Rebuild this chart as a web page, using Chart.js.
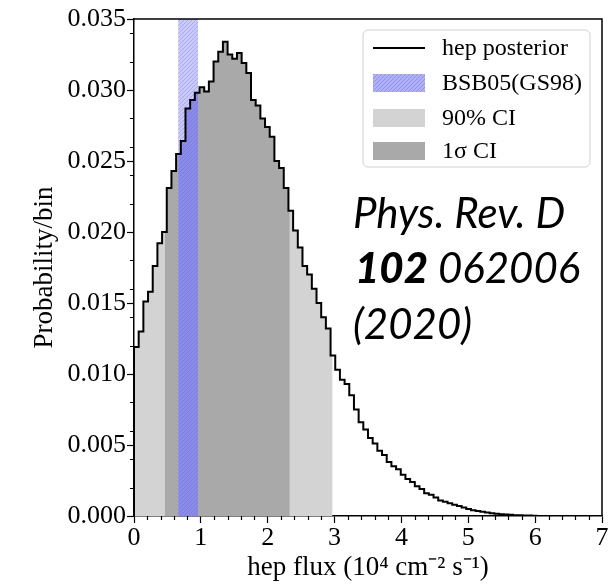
<!DOCTYPE html>
<html>
<head>
<meta charset="utf-8">
<title>hep posterior</title>
<script src="https://cdn.jsdelivr.net/npm/chart.js@4.4.1/dist/chart.umd.min.js"></script>
<style>
	html, body { margin: 0; padding: 0; background: #fff; }
	canvas { display: block; }
</style>
</head>
<body>
<canvas id="hepChart" width="609" height="585"></canvas>
<script>

// histogram: probability per bin, bins of 0.07 starting at 0
var binWidth = 0.07;
var hepProb = [
	0.0119, 0.0130, 0.0151, 0.0158, 0.0176, 0.0192, 0.0200, 0.0231, 0.0243, 0.0255,
	0.0264, 0.0287, 0.0293, 0.0298, 0.0302, 0.0299, 0.0306, 0.0320, 0.0327, 0.0334,
	0.0325, 0.0322, 0.0326, 0.0319, 0.0312, 0.0293, 0.0289, 0.0280, 0.0274, 0.0267,
	0.0250, 0.0245, 0.0231, 0.0215, 0.0201, 0.0189, 0.0176, 0.0170, 0.0160, 0.0150,
	0.0140, 0.0132, 0.0113, 0.0103, 0.0096, 0.0093, 0.0085, 0.0075, 0.0066, 0.0061,
	0.0055, 0.0051, 0.0046, 0.0043, 0.0038, 0.0035, 0.0033, 0.0029, 0.0026, 0.0024,
	0.0021, 0.0019, 0.0016, 0.0015, 0.0013, 0.0011, 0.0010, 0.0009, 0.0008, 0.0007,
	0.0006, 0.0005, 0.0004, 0.00036, 0.0003, 0.00025, 0.0002, 0.00016, 0.00013, 0.0001,
	0.00008, 0.00006, 0.00005, 0.00004, 0.00003, 0.00002
];

var ci90 = [0, 2.97];
var ci1sigma = [0.46, 2.33];
var bsb05 = [0.66, 0.96];

var xTicks = [0, 1, 2, 3, 4, 5, 6, 7];
var yTicks = [0, 0.005, 0.010, 0.015, 0.020, 0.025, 0.030, 0.035];

var legendLabels = ["hep posterior", "BSB05(GS98)", "90% CI", "1\u03c3 CI"];
var refLines = ["Phys. Rev. D", "102", " 062006", "(2020)"];


function binValueAt(x){
	var k = Math.floor(x / binWidth + 1e-9);
	if (k < 0 || k >= hepProb.length) { return 0; }
	return hepProb[k];
}

// step points for the whole histogram
function histPoints(){
	var pts = [{x: 0, y: 0}];
	for (var k = 0; k < hepProb.length; k++){
		pts.push({x: +(k * binWidth).toFixed(4), y: hepProb[k]});
	}
	var end = +(hepProb.length * binWidth).toFixed(4);
	pts.push({x: end, y: hepProb[hepProb.length - 1]});
	pts.push({x: end, y: 0});
	pts.push({x: xTicks[xTicks.length - 1], y: 0});
	return pts;
}

// step points for the part of the histogram between a and b
function rangePoints(a, b){
	var pts = [{x: a, y: binValueAt(a)}];
	for (var k = 0; k < hepProb.length; k++){
		var e = +(k * binWidth).toFixed(4);
		if (e > a && e < b) { pts.push({x: e, y: hepProb[k]}); }
	}
	pts.push({x: b, y: binValueAt(b - 1e-6)});
	return pts;
}

function hatch(base, line){
	var c = document.createElement('canvas');
	c.width = 4; c.height = 4;
	var g = c.getContext('2d');
	g.fillStyle = base;
	g.fillRect(0, 0, 4, 4);
	g.strokeStyle = line;
	g.lineWidth = 1;
	g.beginPath();
	g.moveTo(0, 4); g.lineTo(4, 0);
	g.moveTo(-2, 2); g.lineTo(2, -2);
	g.moveTo(2, 6); g.lineTo(6, 2);
	g.stroke();
	return g.createPattern(c, 'repeat');
}

var paleBlue = hatch('#c9c9fa', '#a9a9f2');
var midBlue = hatch('#8b8be9', '#7c7ce2');
var legendBlue = hatch('#b0b0f6', '#9090ee');
var lightGray = '#d3d3d3';
var darkGray = '#a9a9a9';

var frameAndExtras = {
	id: 'frameAndExtras',
	afterDraw: function(chart){
		var ctx = chart.ctx;
		var a = chart.chartArea;
		var xs = chart.scales.x;
		var ys = chart.scales.y;
		ctx.save();

		// minor ticks
		ctx.strokeStyle = '#000';
		ctx.lineWidth = 1.2;
		ctx.beginPath();
		for (var i = 1; i < 35; i++){
			if (i % 5 === 0) { continue; }
			var px = Math.round(xs.getPixelForValue(i * 0.2)) + 0.5;
			ctx.moveTo(px, a.bottom); ctx.lineTo(px, a.bottom + 4);
		}
		for (var j = 1; j < 18; j++){
			var v = j * 0.002;
			if (Math.abs(v / 0.005 - Math.round(v / 0.005)) < 1e-6) { continue; }
			var py = Math.round(ys.getPixelForValue(v)) + 0.5;
			ctx.moveTo(a.left, py); ctx.lineTo(a.left - 4, py);
		}
		ctx.stroke();

		// top and right spines
		ctx.lineWidth = 1.5;
		ctx.beginPath();
		ctx.moveTo(a.left, a.top); ctx.lineTo(a.right, a.top); ctx.lineTo(a.right, a.bottom);
		ctx.stroke();

		// legend
		var lx = 363, ly = 30, lw = 227, lh = 137, r = 5;
		ctx.beginPath();
		ctx.moveTo(lx + r, ly);
		ctx.arcTo(lx + lw, ly, lx + lw, ly + lh, r);
		ctx.arcTo(lx + lw, ly + lh, lx, ly + lh, r);
		ctx.arcTo(lx, ly + lh, lx, ly, r);
		ctx.arcTo(lx, ly, lx + lw, ly, r);
		ctx.closePath();
		ctx.fillStyle = 'rgba(255,255,255,0.85)';
		ctx.fill();
		ctx.strokeStyle = '#d0d0d0';
		ctx.lineWidth = 1;
		ctx.stroke();

		var rows = [48, 83, 118, 151];
		var fills = [null, legendBlue, lightGray, darkGray];
		ctx.font = '24px "Liberation Serif"';
		ctx.textBaseline = 'middle';
		ctx.textAlign = 'left';
		for (var n = 0; n < legendLabels.length; n++){
			if (n === 0){
				ctx.strokeStyle = '#000';
				ctx.lineWidth = 2;
				ctx.beginPath();
				ctx.moveTo(373, rows[n]); ctx.lineTo(425, rows[n]);
				ctx.stroke();
			} else {
				ctx.fillStyle = fills[n];
				ctx.fillRect(373, rows[n] - 9, 52, 18);
			}
			ctx.fillStyle = '#000';
			ctx.fillText(legendLabels[n], 442, rows[n] + 1);
		}

		// reference text
		ctx.textBaseline = 'alphabetic';
		ctx.fillStyle = '#000';
		ctx.font = 'italic 42px Lato';
		ctx.fillText(refLines[0], 353, 228);
		ctx.font = 'italic 900 42px Lato';
		ctx.fillText(refLines[1], 355, 283);
		var w = ctx.measureText(refLines[1]).width;
		ctx.font = 'italic 42px Lato';
		ctx.fillText(refLines[2], 355 + w, 283);
		ctx.fillText(refLines[3], 353, 339);

		ctx.restore();
	}
};

function init_chart_hep(){

	if( typeof (Chart) === 'undefined'){ return; }

	Chart.defaults.font.family = '"Liberation Serif", serif';
	Chart.defaults.color = '#000';

	var settings = {
		type: 'line',
		data: {
			datasets: [{
				label: legendLabels[0],
				data: histPoints(),
				borderColor: '#000',
				borderWidth: 2,
				stepped: 'before',
				pointRadius: 0,
				fill: false
			}, {
				label: 'BSB05 under curve',
				data: rangePoints(bsb05[0], bsb05[1]),
				borderWidth: 0,
				stepped: 'before',
				pointRadius: 0,
				backgroundColor: midBlue,
				fill: 'origin'
			}, {
				label: legendLabels[1],
				data: [{x: bsb05[0], y: yTicks[yTicks.length - 1]}, {x: bsb05[1], y: yTicks[yTicks.length - 1]}],
				borderWidth: 0,
				pointRadius: 0,
				backgroundColor: paleBlue,
				fill: 'origin'
			}, {
				label: legendLabels[3],
				data: rangePoints(ci1sigma[0], ci1sigma[1]),
				borderWidth: 0,
				stepped: 'before',
				pointRadius: 0,
				backgroundColor: darkGray,
				fill: 'origin'
			}, {
				label: legendLabels[2],
				data: rangePoints(ci90[0], ci90[1]),
				borderWidth: 0,
				stepped: 'before',
				pointRadius: 0,
				backgroundColor: lightGray,
				fill: 'origin'
			}]
		},
		options: {
			responsive: false,
			animation: false,
			devicePixelRatio: 1,
			layout: { padding: { top: 19, right: 7, left: 0, bottom: 0 } },
			plugins: { legend: { display: false }, tooltip: { enabled: false } },
			scales: {
				x: {
					type: 'linear',
					min: xTicks[0],
					max: xTicks[xTicks.length - 1],
					afterBuildTicks: function(s){ s.ticks = xTicks.map(function(v){ return {value: v}; }); },
					afterFit: function(s){ s.height = 69; },
					ticks: { font: { size: 26 }, padding: 0, maxRotation: 0 },
					grid: { drawOnChartArea: false, tickLength: 7, color: '#000', tickWidth: 1.2 },
					border: { color: '#000', width: 1.5 },
					title: {
						display: true,
						text: 'hep flux (10\u2074 cm\u207b\u00b2 s\u207b\u00b9)',
						font: { size: 27 },
						padding: { top: 0, bottom: 1 }
					}
				},
				y: {
					type: 'linear',
					min: yTicks[0],
					max: yTicks[yTicks.length - 1],
					afterBuildTicks: function(s){ s.ticks = yTicks.map(function(v){ return {value: v}; }); },
					afterFit: function(s){ s.width = 134; },
					ticks: {
						font: { size: 26 },
						padding: 1,
						callback: function(v){ return v.toFixed(3); }
					},
					grid: { drawOnChartArea: false, tickLength: 7, color: '#000', tickWidth: 1.2 },
					border: { color: '#000', width: 1.5 },
					title: {
						display: true,
						text: 'Probability/bin',
						font: { size: 27 },
						padding: { top: 29, bottom: 0 }
					}
				}
			}
		},
		plugins: [frameAndExtras]
	};

	var chart = new Chart(document.getElementById('hepChart'), settings);
}

init_chart_hep();
</script>
</body>
</html>
